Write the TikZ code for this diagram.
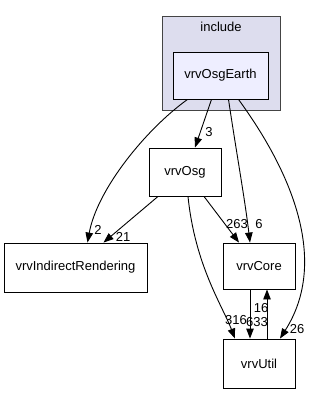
\documentclass[tikz,border=0pt]{standalone}
\usepackage{fontspec}
\setmainfont{Liberation Sans}
\usepackage{xcolor}
\usepackage{tikz}
\usetikzlibrary{arrows.meta,calc}
\definecolor{FondoCluster}{RGB}{221,221,238}
\definecolor{BordeCluster}{RGB}{68,68,68}
\definecolor{FondoDir}{RGB}{238,238,255}

\tikzset{
  dirbox/.style={draw=black,line width=0.9pt,fill=white,inner sep=0pt,
                 font=\fontsize{13}{15}\selectfont},
  dep/.style={-{Triangle[length=10pt,width=7.5pt]},line width=0.9pt},
  cuenta/.style={font=\fontsize{13}{15}\selectfont,inner sep=0pt}
}

\begin{document}
\begin{tikzpicture}[x=1pt,y=-1pt]
  \useasboundingbox (0,0) rectangle (316,393);

  % carpeta include
  \draw[fill=FondoCluster,draw=BordeCluster,line width=0.9pt] (162,16) rectangle (280,110);
  \node[cuenta] (inc) at (221,27) {include};

  \node[dirbox,fill=FondoDir,minimum width=95pt,minimum height=47pt] (oe) at (220.5,75.5) {vrvOsgEarth};
  \node[dirbox,minimum width=72pt,minimum height=48pt] (osg) at (185,172) {vrvOsg};
  \node[dirbox,minimum width=143pt,minimum height=49pt] (ir) at (75.5,267.5) {vrvIndirectRendering};
  \node[dirbox,minimum width=72pt,minimum height=46pt] (core) at (259,266) {vrvCore};
  \node[dirbox,minimum width=72pt,minimum height=49pt] (util) at (259,363.5) {vrvUtil};

  % dependencias
  \draw[dep] ($(oe.south)+(-33,0)$) .. controls (145,130) and (97,190) .. ($(ir.north)+(12,0)$);
  \node[cuenta] (n2) at (98,230) {2};
  \draw[dep] ($(oe.south)+(-9,0)$) -- ($(osg.north)+(10,0)$);
  \node[cuenta] (n3) at (209,132) {3};
  \draw[dep] ($(oe.south)+(8,0)$) .. controls (236,150) and (245,200) .. ($(core.north)+(-9,0)$);
  \node[cuenta] (n6) at (259,224) {6};
  \draw[dep] ($(oe.south)+(18,0)$) .. controls (290,170) and (330,260) .. ($(util.north)+(21,0)$);
  \node[cuenta] (n26) at (297,329) {26};

  \draw[dep] ($(osg.south)+(-27,0)$) -- ($(ir.north)+(28,0)$);
  \node[cuenta] (n21) at (123,237) {21};
  \draw[dep] ($(osg.south)+(19,0)$) -- ($(core.north)+(-20,0)$);
  \node[cuenta] (n263) at (237,224) {263};
  \draw[dep] ($(osg.south)+(3,0)$) .. controls (195,265) and (222,305) .. ($(util.north)+(-24,0)$);
  \node[cuenta] (n316) at (236,320) {316};

  \draw[dep] ($(core.south)+(-9,0)$) -- ($(util.north)+(-9,0)$);
  \node[cuenta] (n633) at (257,322) {633};
  \draw[dep] ($(util.north)+(8,0)$) -- ($(core.south)+(8,0)$);
  \node[cuenta] (n16) at (261,308.5) {16};
\end{tikzpicture}
\end{document}
